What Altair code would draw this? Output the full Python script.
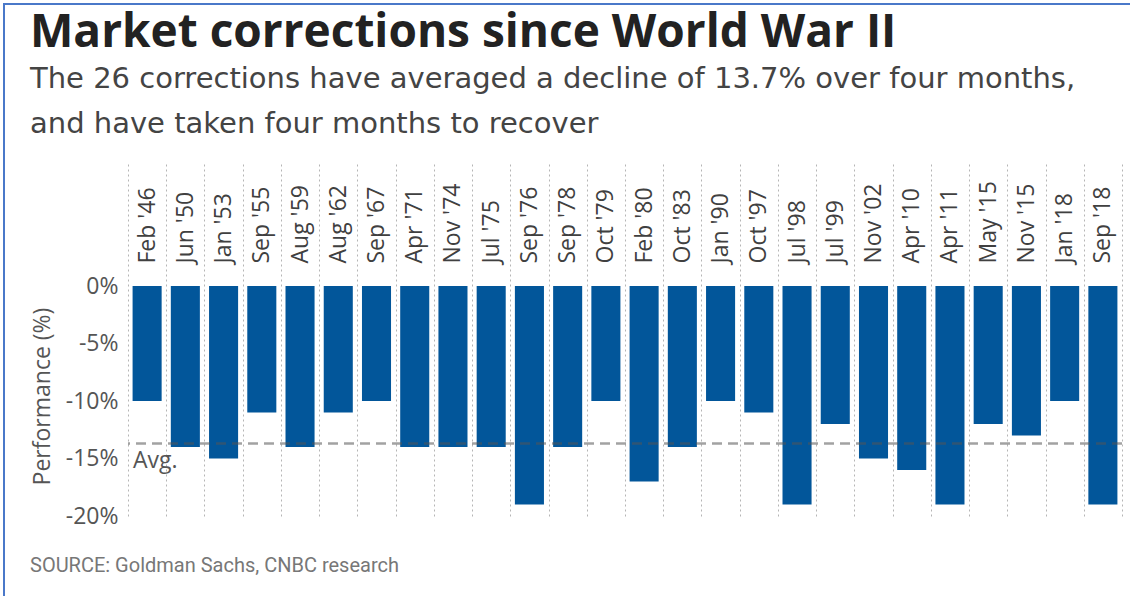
import altair as alt
import pandas as pd

# ---- data ----
labels = ["Feb '46", "Jun '50", "Jan '53", "Sep '55", "Aug '59", "Aug '62", "Sep '67",
          "Apr '71", "Nov '74", "Jul '75", "Sep '76", "Sep '78", "Oct '79", "Feb '80",
          "Oct '83", "Jan '90", "Oct '97", "Jul '98", "Jul '99", "Nov '02", "Apr '10",
          "Apr '11", "May '15", "Nov '15", "Jan '18", "Sep '18"]
declines = [-10, -14, -15, -11, -14, -11, -10, -14, -14, -14, -19, -14, -10, -17,
            -14, -10, -11, -19, -12, -15, -16, -19, -12, -13, -10, -19]
avg_decline = [-13.7]
avg_label = ["Avg."]
y_ticks = [0, -5, -10, -15, -20]

title_text = "Market corrections since World War II"
subtitle_lines = ["The 26 corrections have averaged a decline of 13.7% over four months,",
                  "and have taken four months to recover"]
source_text = "SOURCE: Goldman Sachs, CNBC research"

# ---- layout / style ----
FONT = "Open Sans"
W, H = 994, 353
Y_DOMAIN = [-20, 10.7]
BAR_COLOR = "#02569a"

df = pd.DataFrame({"label": labels, "value": declines})
avg_df = pd.DataFrame({"avg": avg_decline})
avg_txt_df = pd.DataFrame({"label": [labels[0]], "avg": avg_decline, "text": avg_label})
one_row = pd.DataFrame({"k": [0]})

x_scale = alt.Scale(domain=labels, paddingInner=0, paddingOuter=0)
y_scale = alt.Scale(domain=Y_DOMAIN, nice=False)

x_axis = alt.Axis(orient="top", title=None, labelAngle=-90, labelAlign="left",
                  labelBaseline="middle", labelPadding=-100, ticks=False, tickSize=0,
                  domain=False, grid=True, tickBand="extent", gridDash=[2, 3],
                  gridColor="#b5b5b5", gridWidth=1, labelFont=FONT, labelFontSize=23,
                  labelColor="#404040", labelOverlap=False, labelBound=False)

y_axis = alt.Axis(values=y_ticks, labelExpr="datum.value + '%'", title="Performance (%)",
                  ticks=False, domain=False, grid=False, labelPadding=10,
                  labelFont=FONT, labelFontSize=23, labelColor="#555555",
                  titleFont=FONT, titleFontSize=23, titleColor="#555555",
                  titleFontWeight="normal", titleX=-86, titleY=233,
                  titleAlign="center", titleBaseline="middle", titleAngle=-90)

bars = alt.Chart(df).mark_bar(color=BAR_COLOR, width=alt.RelativeBandSize(0.76)).encode(
    x=alt.X("label:N", sort=labels, scale=x_scale, axis=x_axis),
    y=alt.Y("value:Q", scale=y_scale, axis=y_axis),
    y2=alt.datum(0),
)

avg_rule = alt.Chart(avg_df).mark_rule(color="#555555", opacity=0.55, strokeDash=[10, 6],
                                       strokeWidth=2.5).encode(
    y=alt.Y("avg:Q", scale=y_scale),
)

avg_text = alt.Chart(avg_txt_df).mark_text(align="left", baseline="top", dx=5, dy=6,
                                           font=FONT, fontSize=23, color="#555555").encode(
    x=alt.X("label:N", sort=labels, scale=x_scale, bandPosition=0),
    y=alt.Y("avg:Q", scale=y_scale),
    text="text:N",
)

title = alt.Chart(one_row).mark_text(align="left", baseline="alphabetic", font=FONT,
                                     fontSize=46, fontWeight="bold", color="#222222").encode(
    x=alt.value(-98), y=alt.value(-116), text=alt.value(title_text))

subtitle = alt.Chart(one_row).mark_text(align="left", baseline="alphabetic", font="DejaVu Sans",
                                        fontSize=29, lineHeight=45, color="#444444").encode(
    x=alt.value(-98), y=alt.value(-75), text=alt.value(subtitle_lines))

source = alt.Chart(one_row).mark_text(align="left", baseline="middle", font="Roboto",
                                      fontSize=20, color="#777777").encode(
    x=alt.value(-98), y=alt.value(403), text=alt.value(source_text))

frame = alt.Chart(one_row).mark_rect(fillOpacity=0, stroke="#4a78c9", strokeWidth=2).encode(
    x=alt.value(-124), x2=alt.value(1020), y=alt.value(-159), y2=alt.value(460))

chart = alt.layer(frame, bars, avg_rule, avg_text, title, subtitle, source).properties(
    width=W, height=H,
    autosize=alt.AutoSizeParams(type="none"),
    padding={"left": 128, "top": 163, "right": 8, "bottom": 80},
).configure_view(stroke=None)

chart.save("out.html", embed_options={"renderer": "svg", "actions": False})
